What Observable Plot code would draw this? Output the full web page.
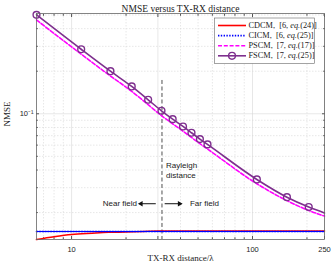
<!DOCTYPE html>
<html><head><meta charset="utf-8">
<script src="https://cdn.jsdelivr.net/npm/d3@7"></script>
<script src="https://cdn.jsdelivr.net/npm/@observablehq/plot@0.6"></script>
<style>body{margin:0;background:#fff}#chart{width:332px;height:269px}</style>
</head><body><div id="chart"></div>
<script>
// Series metadata
const seriesNames = ["CDCM", "CICM", "PSCM", "FSCM"];
const seriesRefs = [["6", "(24)"], ["6", "(25)"], ["7", "(17)"], ["7", "(25)"]];
const seriesColors = ["#ff0000", "#0000ff", "#ff00ff", "#7e2f8e"];
const seriesDash = [null, "1.4,1.4", "4,1.8", null];

// Data (distance / lambda, NMSE)
const distCDCM = [6.4, 8, 10, 13, 16, 20, 25, 30, 40, 60, 100, 250];
const nmseCDCM = [0.0129, 0.0135, 0.0140, 0.0143, 0.0145, 0.01457, 0.0147, 0.0148, 0.0148, 0.0148, 0.0148, 0.0148];
const distCICM = [6.4, 30, 100, 250];
const nmseCICM = [0.0147, 0.0147, 0.0147, 0.0147];
const distPSCM = [6.4, 11.3, 16.4, 21.5, 26.5, 31.4, 36.2, 41.3, 46.0, 51.2, 56.4, 105.7, 155, 204.5, 250];
const nmsePSCM = [0.461, 0.264, 0.185, 0.144, 0.116, 0.097, 0.085, 0.0753, 0.068, 0.0614, 0.0563, 0.0320, 0.0243, 0.0207, 0.0189];
const distFSCM = [6.4, 11.3, 16.4, 21.5, 26.5, 31.4, 36.2, 41.3, 46.0, 51.2, 56.4, 105.7, 155, 204.5, 250];
const nmseFSCM = [0.501, 0.286, 0.200, 0.156, 0.1256, 0.105, 0.0916, 0.0813, 0.0734, 0.0662, 0.0607, 0.0343, 0.0257, 0.0219, 0.0199];
const markerDistFSCM = [6.4, 11.3, 16.4, 21.5, 26.5, 31.4, 36.2, 41.3, 46.0, 51.2, 56.4, 105.7, 155, 204.5];
const markerNmseFSCM = [0.501, 0.286, 0.200, 0.156, 0.1256, 0.105, 0.0916, 0.0813, 0.0734, 0.0662, 0.0607, 0.0343, 0.0257, 0.0219];

// Axes
const xMajorTicks = [10, 30, 100, 250];
const xMinorTicks = [7, 8, 9, 20, 40, 50, 60, 70, 80, 90, 200];
const yMajorTicks = [0.1];
const yMinorTicks = [0.02, 0.03, 0.04, 0.05, 0.06, 0.07, 0.08, 0.09, 0.2, 0.3, 0.4, 0.5];
const xDomain = [6.4, 250];
const yDomain = [0.0129, 0.512];

// Annotations
const rayleighDist = 31.6;
const rayleighTop = 0.172;
const rayleighLabelY = 0.0401;
const fieldArrowY = 0.0231;
const nearArrow = {x1: 29.2, x2: 23.6, label: "Near field"};
const farArrow = {x1: 32.7, x2: 40.5, label: "Far field"};

const titleText = "NMSE versus TX-RX distance";
const xLabel = "TX-RX distance/\u03bb";
const yLabel = "NMSE";

const serif = "'Liberation Serif', 'Times New Roman', serif";
const sans = "'Liberation Sans', Arial, sans-serif";

const rows = (name, xs, ys) => xs.map((x, i) => ({s: name, x, y: ys[i]}));
const cdcm = rows("CDCM", distCDCM, nmseCDCM);
const cicm = rows("CICM", distCICM, nmseCICM);
const pscm = rows("PSCM", distPSCM, nmsePSCM);
const fscm = rows("FSCM", distFSCM, nmseFSCM);
const fscmMarkers = rows("FSCM", markerDistFSCM, markerNmseFSCM);

const axisStroke = "#555";
const gridOpts = {stroke: "#d6d6d6", strokeOpacity: 1, strokeWidth: 0.6};
const minorGridOpts = {stroke: "#d6d6d6", strokeOpacity: 1, strokeWidth: 0.6, strokeDasharray: "1.5,1.5"};

const plot = Plot.plot({
  width: 332, height: 269,
  marginLeft: 36, marginRight: 8, marginTop: 13, marginBottom: 30,
  style: {fontFamily: sans, fontSize: "7.5px", background: "#fff", color: "#222"},
  x: {type: "log", domain: xDomain, label: null},
  y: {type: "log", domain: yDomain, label: null},
  marks: [
    Plot.gridX(xMinorTicks, minorGridOpts),
    Plot.gridY(yMinorTicks, minorGridOpts),
    Plot.gridX(xMajorTicks, gridOpts),
    Plot.gridY(yMajorTicks, gridOpts),
    // tick labels
    Plot.axisX(xMajorTicks, {anchor: "bottom", tickSize: 0, tickPadding: 7, tickFormat: d => String(d), label: null, fontSize: 7.5}),
    Plot.axisY(yMajorTicks, {anchor: "left", tickSize: 0, tickPadding: 3, tickFormat: () => "10\u207b\u00b9", label: null, fontSize: 7.5}),
    // inward tick marks
    Plot.axisX(xMajorTicks, {anchor: "bottom", tickSize: -3, fill: "none", stroke: axisStroke, label: null}),
    Plot.axisX(xMajorTicks, {anchor: "top", tickSize: -3, fill: "none", stroke: axisStroke, label: null}),
    Plot.axisX(xMinorTicks, {anchor: "bottom", tickSize: -1.8, fill: "none", stroke: axisStroke, label: null}),
    Plot.axisX(xMinorTicks, {anchor: "top", tickSize: -1.8, fill: "none", stroke: axisStroke, label: null}),
    Plot.axisY(yMajorTicks, {anchor: "left", tickSize: -3, fill: "none", stroke: axisStroke, label: null}),
    Plot.axisY(yMajorTicks, {anchor: "right", tickSize: -3, fill: "none", stroke: axisStroke, label: null}),
    Plot.axisY(yMinorTicks, {anchor: "left", tickSize: -1.8, fill: "none", stroke: axisStroke, label: null}),
    Plot.axisY(yMinorTicks, {anchor: "right", tickSize: -1.8, fill: "none", stroke: axisStroke, label: null}),
    // Rayleigh distance
    Plot.ruleX([rayleighDist], {y1: rayleighTop, y2: yDomain[0], stroke: "#222", strokeWidth: 0.8, strokeDasharray: "4,2.5"}),
    Plot.text([rayleighDist], {x: d => d, y: rayleighLabelY, text: () => "Rayleigh\ndistance", textAnchor: "start", dx: 4, lineHeight: 1.3, fontSize: 8, fontFamily: sans, fill: "#222"}),
    Plot.link([nearArrow, farArrow], {x1: "x1", x2: "x2", y1: fieldArrowY, y2: fieldArrowY, stroke: "#111", strokeWidth: 1}),
    Plot.dot([nearArrow], {x: "x2", y: fieldArrowY, symbol: "triangle2", r: 2.6, rotate: -90, fill: "#111", dx: 2}),
    Plot.dot([farArrow], {x: "x2", y: fieldArrowY, symbol: "triangle2", r: 2.6, rotate: 90, fill: "#111", dx: -2}),
    Plot.text([nearArrow], {x: "x2", y: fieldArrowY, text: "label", textAnchor: "end", dx: -2, fontSize: 8, fontFamily: sans, fill: "#222"}),
    Plot.text([farArrow], {x: "x2", y: fieldArrowY, text: "label", textAnchor: "start", dx: 8.5, fontSize: 8, fontFamily: sans, fill: "#222"}),
    // series
    Plot.line(cdcm, {x: "x", y: "y", stroke: seriesColors[0], strokeWidth: 1.6, curve: "monotone-x"}),
    Plot.line(cicm, {x: "x", y: "y", stroke: seriesColors[1], strokeWidth: 1.6, strokeDasharray: seriesDash[1]}),
    Plot.line(pscm, {x: "x", y: "y", stroke: seriesColors[2], strokeWidth: 1.6, strokeDasharray: seriesDash[2], curve: "monotone-x"}),
    Plot.line(fscm, {x: "x", y: "y", stroke: seriesColors[3], strokeWidth: 1.6, curve: "monotone-x"}),
    Plot.dot(fscmMarkers, {x: "x", y: "y", r: 3.4, stroke: seriesColors[3], strokeWidth: 1.4, fill: "none"}),
    Plot.frame({stroke: "#666", strokeWidth: 0.8}),
    // titles
    Plot.text([titleText], {text: d => d, frameAnchor: "top", dy: -8, fontFamily: serif, fontSize: 9.5, fill: "#222"}),
    Plot.text([xLabel], {text: d => d, frameAnchor: "bottom", dy: 21.5, fontFamily: serif, fontSize: 9, fill: "#222"}),
    Plot.text([yLabel], {text: d => d, frameAnchor: "left", dx: -29, rotate: -90, fontFamily: serif, fontSize: 9, fill: "#222"})
  ]
});

// Legend
const svg = d3.select(plot);
const lg = svg.append("g").attr("font-family", serif).attr("font-size", 8.3).attr("fill", "#222").attr("text-anchor", "start");
lg.append("rect").attr("x", 214.5).attr("y", 18).attr("width", 100).attr("height", 45.5)
  .attr("fill", "#fff").attr("stroke", "#666").attr("stroke-width", 0.6);
seriesNames.forEach((name, i) => {
  const y = 25.5 + i * 10.1;
  const ln = lg.append("line").attr("x1", 218).attr("x2", 246).attr("y1", y).attr("y2", y)
    .attr("stroke", seriesColors[i]).attr("stroke-width", 1.6);
  if (seriesDash[i]) ln.attr("stroke-dasharray", seriesDash[i]);
  if (name === "FSCM") lg.append("circle").attr("cx", 232).attr("cy", y).attr("r", 3.4)
    .attr("fill", "none").attr("stroke", seriesColors[i]).attr("stroke-width", 1.4);
  const t = lg.append("text").attr("x", 248.5).attr("y", y).attr("dy", "0.32em").attr("text-anchor", "start");
  t.append("tspan").text(name + ",  [" + seriesRefs[i][0] + ", ");
  t.append("tspan").attr("font-style", "italic").text("eq.");
  t.append("tspan").text(seriesRefs[i][1] + "]");
});

document.getElementById("chart").appendChild(plot);
</script>
</body></html>
